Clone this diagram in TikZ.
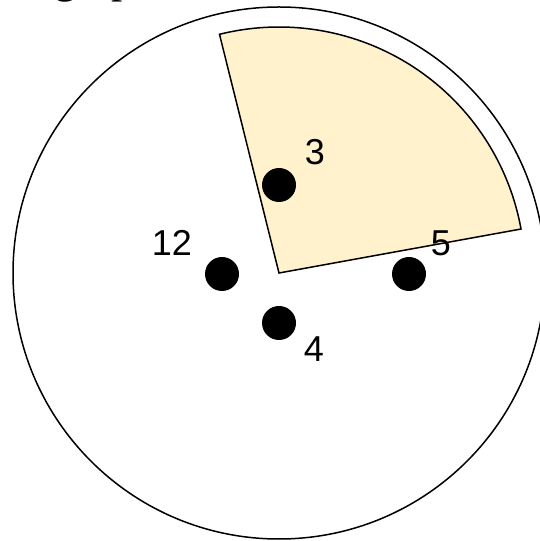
\documentclass[tikz,border=0pt]{standalone}
\usepackage{fontspec}
\setmainfont{Liberation Serif}
\newfontfamily\digitfont{Liberation Sans}
\usetikzlibrary{positioning}
\definecolor{wedgefill}{HTML}{FFF2CC}

\begin{document}
\begin{tikzpicture}[
    x=1pt, y=1pt,
    rim/.style={draw=black, line width=1.5pt},
    wedge/.style={draw=black, fill=wedgefill, line width=1.5pt},
    dot/.style={circle, fill=black, minimum size=34pt, inner sep=0pt},
    num/.style={inner sep=0pt, font=\digitfont\fontsize{36}{40}\selectfont}
  ]
  \useasboundingbox (0,0) rectangle (540,541);
  \node[anchor=base west, inner sep=0pt, font=\fontsize{45}{50}\selectfont] (caption) at (54,548) {graphs.};

  \coordinate (hub) at (279,268);
  \draw[rim] (hub) circle[radius=266];
  \draw[wedge] (hub) -- ++(10.3:246) arc[start angle=10.3, end angle=104, radius=246] -- cycle;

  \node[dot] (d3) at (279,356) {};
  \node[dot] (d12) at (222,267) {};
  \node[dot] (d5) at (409,267) {};
  \node[dot] (d4) at (279,218) {};

  \node[num] (n3) at (315,389) {3};
  \node[num] (n12) at (172,298) {12};
  \node[num] (n5) at (441,298) {5};
  \node[num] (n4) at (314,192) {4};
\end{tikzpicture}
\end{document}
